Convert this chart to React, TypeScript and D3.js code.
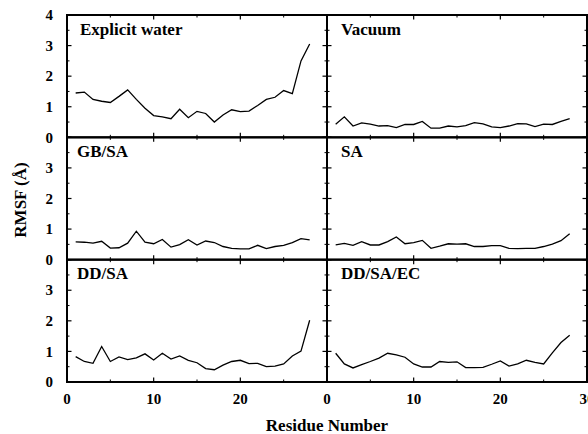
import React from 'react';
import * as d3 from 'd3';

const residues = d3.range(1, 29);

const explicitWater = [1.45, 1.48, 1.24, 1.18, 1.14, 1.34, 1.55, 1.24, 0.95, 0.71, 0.67, 0.61, 0.92, 0.64, 0.85, 0.78, 0.5, 0.73, 0.9, 0.84, 0.86, 1.04, 1.24, 1.31, 1.53, 1.43, 2.5, 3.05];
const vacuum = [0.43, 0.67, 0.37, 0.47, 0.43, 0.37, 0.38, 0.32, 0.42, 0.42, 0.52, 0.3, 0.3, 0.37, 0.34, 0.38, 0.48, 0.44, 0.34, 0.32, 0.37, 0.45, 0.44, 0.35, 0.43, 0.42, 0.52, 0.61];
const gbsa = [0.58, 0.57, 0.54, 0.6, 0.38, 0.39, 0.54, 0.93, 0.57, 0.52, 0.66, 0.41, 0.49, 0.65, 0.48, 0.61, 0.56, 0.43, 0.37, 0.35, 0.35, 0.47, 0.36, 0.43, 0.47, 0.56, 0.69, 0.65];
const sa = [0.48, 0.53, 0.47, 0.59, 0.48, 0.48, 0.59, 0.74, 0.52, 0.56, 0.63, 0.37, 0.44, 0.52, 0.51, 0.52, 0.43, 0.43, 0.46, 0.46, 0.37, 0.36, 0.37, 0.37, 0.43, 0.51, 0.62, 0.85];
const ddsa = [0.83, 0.67, 0.61, 1.16, 0.67, 0.82, 0.73, 0.79, 0.92, 0.72, 0.94, 0.75, 0.85, 0.71, 0.63, 0.44, 0.4, 0.55, 0.67, 0.71, 0.6, 0.61, 0.5, 0.52, 0.59, 0.85, 1.01, 2.02];
const ddsaec = [0.94, 0.59, 0.46, 0.57, 0.67, 0.78, 0.94, 0.89, 0.81, 0.59, 0.49, 0.49, 0.67, 0.64, 0.66, 0.47, 0.47, 0.48, 0.58, 0.69, 0.52, 0.59, 0.71, 0.64, 0.59, 0.95, 1.29, 1.53];

const panels = [
  { title: 'Explicit water', values: explicitWater, row: 0, col: 0 },
  { title: 'Vacuum', values: vacuum, row: 0, col: 1 },
  { title: 'GB/SA', values: gbsa, row: 1, col: 0 },
  { title: 'SA', values: sa, row: 1, col: 1 },
  { title: 'DD/SA', values: ddsa, row: 2, col: 0 },
  { title: 'DD/SA/EC', values: ddsaec, row: 2, col: 1 },
];

const xMajor = [0, 10, 20, 30];
const xMinor = [5, 15, 25];
const yMajor = [0, 1, 2, 3, 4];
const yMinor = [0.5, 1.5, 2.5, 3.5];

const left = 67;
const top = 15;
const panelW = 260;
const panelH = 122.33;
const font = '"Liberation Serif", "Times New Roman", serif';

const Panel = ({ title, values, row, col }) => {
  const x0 = left + col * panelW;
  const y0 = top + row * panelH;
  const x = d3.scaleLinear().domain([0, 30]).range([x0, x0 + panelW]);
  const y = d3.scaleLinear().domain([0, 4]).range([y0 + panelH, y0]);
  const line = d3.line<number>().x((d, i) => x(residues[i])).y(d => y(d));
  const x1 = x0 + panelW;
  const y1 = y0 + panelH;
  // title offset: first panel sits a bit further right in the original
  const tx = col === 1 ? 14 : row === 0 ? 13 : 10;
  return (
    <g>
      {xMajor.map(t => (
        <g key={'xM' + t}>
          <line x1={x(t)} x2={x(t)} y1={y1} y2={y1 - 4.5} stroke="#000" strokeWidth={1.2} />
          <line x1={x(t)} x2={x(t)} y1={y0} y2={y0 + 4.5} stroke="#000" strokeWidth={1.2} />
        </g>
      ))}
      {xMinor.map(t => (
        <g key={'xm' + t}>
          <line x1={x(t)} x2={x(t)} y1={y1} y2={y1 - 2.5} stroke="#000" strokeWidth={1} />
          <line x1={x(t)} x2={x(t)} y1={y0} y2={y0 + 2.5} stroke="#000" strokeWidth={1} />
        </g>
      ))}
      {yMajor.map(t => (
        <g key={'yM' + t}>
          <line x1={x0} x2={x0 + 4.5} y1={y(t)} y2={y(t)} stroke="#000" strokeWidth={1.2} />
          <line x1={x1} x2={x1 - 4.5} y1={y(t)} y2={y(t)} stroke="#000" strokeWidth={1.2} />
        </g>
      ))}
      {yMinor.map(t => (
        <g key={'ym' + t}>
          <line x1={x0} x2={x0 + 2.5} y1={y(t)} y2={y(t)} stroke="#000" strokeWidth={1} />
          <line x1={x1} x2={x1 - 2.5} y1={y(t)} y2={y(t)} stroke="#000" strokeWidth={1} />
        </g>
      ))}
      <rect x={x0} y={y0} width={panelW} height={panelH} fill="none" stroke="#000" strokeWidth={2} />
      <path d={line(values) || ''} fill="none" stroke="#000" strokeWidth={1.3} strokeLinejoin="miter" />
      <text x={x0 + tx} y={y0 + 19.5} fontFamily={font} fontWeight="bold" fontSize={17}>
        {title}
      </text>
      {col === 0 &&
        yMajor
          .filter(t => t < 4 || row === 0)
          .map(t => (
            <text key={'yl' + t} x={x0 - 14} y={y(t)} dy="0.35em" textAnchor="end" fontFamily={font} fontWeight="bold" fontSize={15}>
              {t}
            </text>
          ))}
      {row === 2 &&
        xMajor
          .filter(t => col === 1 || t < 30)
          .map(t => (
            <text key={'xl' + t} x={x(t)} y={y1 + 22} textAnchor="middle" fontFamily={font} fontWeight="bold" fontSize={15}>
              {t}
            </text>
          ))}
    </g>
  );
};

export default function App() {
  return (
    <svg width={588} height={434} style={{ position: 'absolute', left: 0, top: 0, background: '#fff' }}>
      <rect width={588} height={434} fill="#fff" />
      {panels.map(p => (
        <Panel key={p.title} {...p} />
      ))}
      <text x={327} y={431} textAnchor="middle" fontFamily={font} fontWeight="bold" fontSize={17}>
        Residue Number
      </text>
      <text transform="translate(26,200) rotate(-90)" textAnchor="middle" fontFamily={font} fontWeight="bold" fontSize={17}>
        RMSF (Å)
      </text>
    </svg>
  );
}
